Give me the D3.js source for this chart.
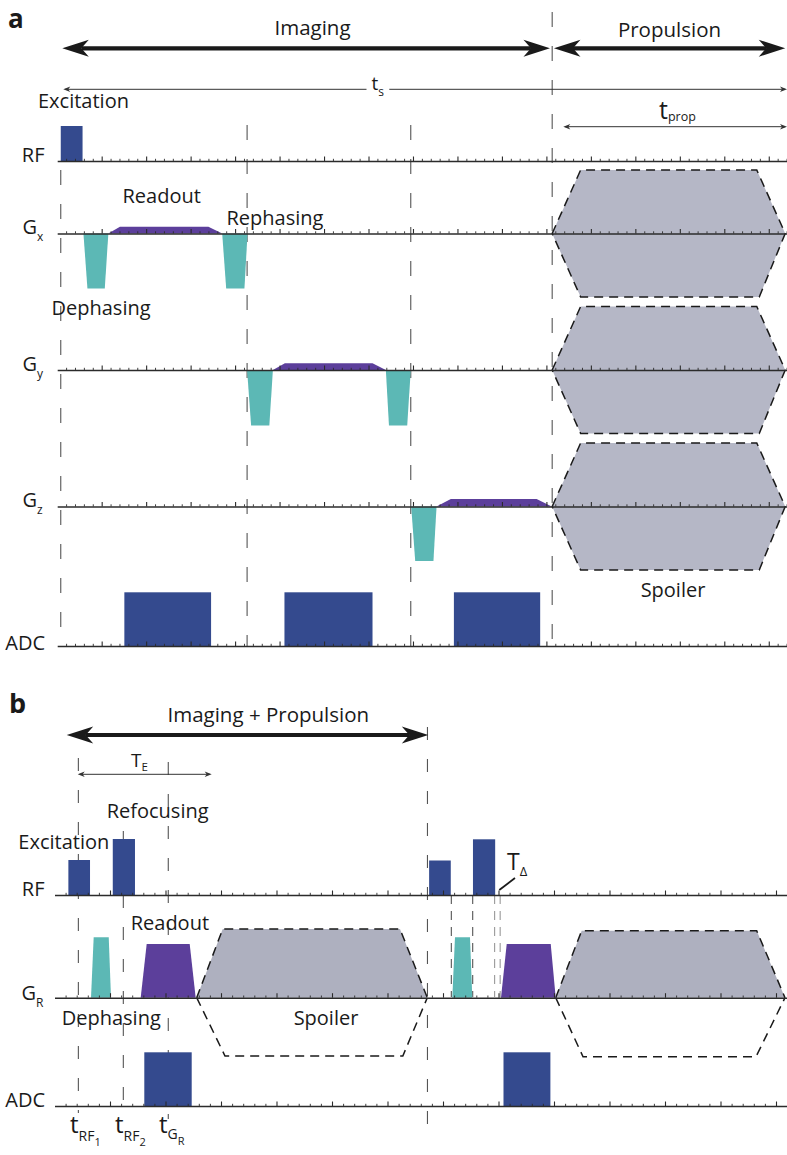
<!DOCTYPE html>
<html><head><meta charset="utf-8">
<script src="https://cdn.jsdelivr.net/npm/d3@7"></script>
<style>
body{margin:0;background:#fff}
svg{display:block}
text,tspan{font-family:"Open Sans",sans-serif;fill:#1a1a1a}
</style>
</head><body>
<svg id="c" width="787" height="1155"></svg>
<script>
// ---------------- DATA (time in arbitrary units: 1 unit = one major tick) ----------------
// Panel a
const aTimeMax = 16.41;
const aRF = [{t0: 0.08, t1: 0.57, amp: 3.5}];
const aGx = [
  {t: [0.59, 0.68, 1.07, 1.15], amp: -5.5, kind: "phase"},
  {t: [1.15, 1.41, 3.40, 3.71], amp: 0.67, kind: "readout"},
  {t: [3.71, 3.80, 4.21, 4.28], amp: -5.5, kind: "phase"}
];
const aGy = [
  {t: [4.27, 4.36, 4.77, 4.85], amp: -5.55, kind: "phase"},
  {t: [4.85, 5.12, 7.09, 7.39], amp: 0.67, kind: "readout"},
  {t: [7.39, 7.46, 7.87, 7.95], amp: -5.55, kind: "phase"}
];
const aGz = [
  {t: [7.96, 8.05, 8.46, 8.53], amp: -5.45, kind: "phase"},
  {t: [8.53, 8.85, 10.78, 11.12], amp: 0.74, kind: "readout"}
];
const aSpoiler = {t: [11.13, 11.77, 15.73, 16.37], amp: 6.35};
const aADC = [[1.51, 3.46], [5.11, 7.09], [8.92, 10.86]];
const aADCamp = 5.37;
const aMarkers = [0.08, 4.27, 7.95, 11.13];
const aPhases = [{name: "Imaging", t0: 0.115, t1: 11.08}, {name: "Propulsion", t0: 11.17, t1: 16.37}];
const aTs = [0.137, 16.41];
const aTprop = [11.38, 16.41];

// Panel b
const bTimeMax = 13.2;
const bRF = [
  {t0: 0.25, t1: 0.64, amp: 3.5},
  {t0: 1.05, t1: 1.45, amp: 5.6},
  {t0: 6.75, t1: 7.14, amp: 3.45},
  {t0: 7.54, t1: 7.94, amp: 5.57}
];
const bGR = [
  {t: [0.658, 0.706, 0.977, 1.018], amp: 6.04, kind: "phase"},
  {t: [1.553, 1.661, 2.436, 2.544], amp: 5.37, kind: "readout"},
  {t: [7.168, 7.216, 7.486, 7.528], amp: 6.04, kind: "phase"},
  {t: [8.045, 8.148, 8.941, 9.031], amp: 5.37, kind: "readout"}
];
const bSpoilers = [
  {top: [2.562, 3.031, 6.225, 6.717], ampTop: 6.87, bottom: [2.562, 3.072, 6.276, 6.717], ampBottom: -5.83},
  {top: [9.031, 9.499, 12.652, 13.162], ampTop: 6.7, bottom: [9.031, 9.523, 12.64, 13.162], ampBottom: -5.9}
];
const bADC = [[1.618, 2.472], [8.09, 8.935]];
const bADCamp = 5.37;
const bMarkers = [0.43, 1.24, 2.05, 6.72, 7.15, 7.535, 7.93, 8.03];
const bPhase = {name: "Imaging + Propulsion", t0: 0.22, t1: 6.735};
const bTE = [0.418, 2.832];
const bTDelta = [8.014, 8.297];

// ---------------- STYLE ----------------
const NAVY = "#344a8e", TEAL = "#5cb8b5", PURPLE = "#5c3f9b", GREY_A = "#b5b7c6", GREY_B = "#aeb0bf";
const INK = "#1a1a1a";
const svg = d3.select("#c");

const xa = d3.scaleLinear().domain([0, aTimeMax]).range([57.2, 787]);
const xb = d3.scaleLinear().domain([0, bTimeMax]).range([54.5, 787.1]);
const amp = d3.scaleLinear().domain([0, 1]).range([0, -10]);

const rowA = {RF: 161, Gx: 233.5, Gy: 370, Gz: 506.5, ADC: 646};
const rowB = {RF: 895, GR: 997.7, ADC: 1106};

const line = d3.line();

function txt(g, x, y, parts, anchor = "start", weight = "normal") {
  const t = g.append("text").attr("x", x).attr("y", y).attr("text-anchor", anchor)
    .attr("font-weight", weight).attr("fill", INK);
  parts.forEach(([s, size, dy]) => {
    t.append("tspan").attr("font-size", size).attr("dy", dy || 0).attr("fill", INK).text(s);
  });
  return t;
}

function thickArrow(g, x1, x2, y) {
  const L = 26.5, W = 8.5, N = 19;
  g.append("line").attr("x1", x1 + N).attr("x2", x2 - N).attr("y1", y).attr("y2", y)
    .attr("stroke", INK).attr("stroke-width", 4.2);
  g.append("path").attr("d", `M${x1},${y}L${x1 + L},${y - W}L${x1 + N},${y}L${x1 + L},${y + W}Z`).attr("fill", INK);
  g.append("path").attr("d", `M${x2},${y}L${x2 - L},${y - W}L${x2 - N},${y}L${x2 - L},${y + W}Z`).attr("fill", INK);
}
function thinArrow(g, x1, x2, y) {
  const L = 7, W = 2.8, N = 5;
  g.append("line").attr("x1", x1 + 2).attr("x2", x2 - 2).attr("y1", y).attr("y2", y)
    .attr("stroke", "#333").attr("stroke-width", 1);
  g.append("path").attr("d", `M${x1},${y}L${x1 + L},${y - W}L${x1 + N},${y}L${x1 + L},${y + W}Z`).attr("fill", "#333");
  g.append("path").attr("d", `M${x2},${y}L${x2 - L},${y - W}L${x2 - N},${y}L${x2 - L},${y + W}Z`).attr("fill", "#333");
}

function drawAxis(g, x, y, tMax) {
  const majors = d3.range(1, Math.floor(tMax) + 1);
  const minors = d3.range(1, Math.floor(tMax * 5) + 1).map(d => d / 5).filter(d => Math.abs(d - Math.round(d)) > 1e-6);
  const gg = g.append("g").attr("transform", `translate(0,${y})`).attr("color", "#2b2b2b");
  const mi = gg.append("g").call(d3.axisTop(x).tickValues(minors).tickSize(2.2).tickSizeOuter(0).tickFormat(""));
  mi.select(".domain").remove();
  mi.selectAll("line").attr("stroke-width", 0.9);
  const ma = gg.append("g").call(d3.axisTop(x).tickValues(majors).tickSize(4.5).tickSizeOuter(0).tickFormat(""));
  ma.select(".domain").attr("stroke-width", 1.6);
  ma.selectAll("line").attr("stroke-width", 1.1);
}

function trap(g, x, y, p) {
  const pts = [[x(p.t[0]), y], [x(p.t[1]), y + amp(p.amp)], [x(p.t[2]), y + amp(p.amp)], [x(p.t[3]), y]];
  g.append("path").attr("d", line(pts) + "Z").attr("fill", p.kind === "phase" ? TEAL : PURPLE);
}

function vdash(g, x, y1, y2, color = "#555", dash = "15,19") {
  g.append("line").attr("x1", x).attr("x2", x).attr("y1", y1).attr("y2", y2)
    .attr("stroke", color).attr("stroke-width", 1.1).attr("stroke-dasharray", dash);
}

// ================= PANEL A =================
const A = svg.append("g");
const aMarkerExt = [[170, 646], [125, 646], [125, 646], [12, 646]];
aMarkers.forEach((t, i) => vdash(A, xa(t), aMarkerExt[i][0], aMarkerExt[i][1]));

["Gx", "Gy", "Gz"].forEach(r => {
  const y = rowA[r], s = aSpoiler;
  const pts = [[xa(s.t[0]), y], [xa(s.t[1]), y + amp(s.amp)], [xa(s.t[2]), y + amp(s.amp)], [xa(s.t[3]), y],
               [xa(s.t[2]) + 2.5, y - amp(s.amp)], [xa(s.t[1]), y - amp(s.amp)]];
  A.append("path").attr("d", line(pts) + "Z").attr("fill", GREY_A)
    .attr("stroke", INK).attr("stroke-width", 1.5).attr("stroke-dasharray", "9,6");
});
aRF.forEach(p => A.append("rect").attr("x", xa(p.t0)).attr("width", xa(p.t1) - xa(p.t0))
  .attr("y", rowA.RF + amp(p.amp)).attr("height", -amp(p.amp)).attr("fill", NAVY));
aGx.forEach(p => trap(A, xa, rowA.Gx, p));
aGy.forEach(p => trap(A, xa, rowA.Gy, p));
aGz.forEach(p => trap(A, xa, rowA.Gz, p));
aADC.forEach(([t0, t1]) => A.append("rect").attr("x", xa(t0)).attr("width", xa(t1) - xa(t0))
  .attr("y", rowA.ADC + amp(aADCamp)).attr("height", -amp(aADCamp)).attr("fill", NAVY));
Object.values(rowA).forEach(y => drawAxis(A, xa, y, aTimeMax));

txt(A, 8, 28, [["a", 26]], "start", "bold");
aPhases.forEach(p => thickArrow(A, xa(p.t0), xa(p.t1), 48.3));
txt(A, 312.5, 35, [[aPhases[0].name, 20.5]], "middle");
txt(A, 669.5, 36.5, [[aPhases[1].name, 20.5]], "middle");
thinArrow(A, xa(aTs[0]), xa(aTs[1]), 89.3);
const ts = txt(A, 371.5, 90, [["t", 19], ["s", 12, 6]]);
const bb = ts.node().getBBox();
A.insert("rect", () => ts.node()).attr("x", bb.x - 5).attr("y", bb.y).attr("width", bb.width + 10).attr("height", bb.height).attr("fill", "#fff");
thinArrow(A, xa(aTprop[0]), xa(aTprop[1]), 126.7);
txt(A, 659, 119, [["t", 25], ["prop", 12.5, 2]]);

txt(A, 38, 108.3, [["Excitation", 20]]);
txt(A, 44.5, 161.5, [["RF", 20]], "end");
txt(A, 22.5, 234, [["G", 20], ["x", 12, 7]]);
txt(A, 22.5, 370.5, [["G", 20], ["y", 12, 7]]);
txt(A, 22.5, 507, [["G", 20], ["z", 12, 7]]);
txt(A, 45, 650, [["ADC", 20]], "end");
txt(A, 161.7, 203, [["Readout", 20]], "middle");
txt(A, 226.5, 225, [["Rephasing", 20]]);
txt(A, 51.5, 315, [["Dephasing", 20]]);
txt(A, 673, 597, [["Spoiler", 20]], "middle");

// ================= PANEL B =================
const B = svg.append("g");
const bMarkerExt = [[758, 1113], [831, 1113], [762, 1119], [727, 1133], [895, 997], [895, 997], [895, 997], [895, 997]];
const bMarkerCol = ["#555", "#555", "#555", "#555", "#555", "#555", "#9a9a9a", "#9a9a9a"];
bMarkers.forEach((t, i) => vdash(B, xb(t), bMarkerExt[i][0], bMarkerExt[i][1], bMarkerCol[i], i >= 4 ? "9,7" : "13,19"));

bSpoilers.forEach(s => {
  const y = rowB.GR;
  const top = [[xb(s.top[0]), y], [xb(s.top[1]), y + amp(s.ampTop)], [xb(s.top[2]), y + amp(s.ampTop)], [xb(s.top[3]), y]];
  const bot = [[xb(s.bottom[0]), y], [xb(s.bottom[1]), y + amp(s.ampBottom)], [xb(s.bottom[2]), y + amp(s.ampBottom)], [xb(s.bottom[3]), y]];
  B.append("path").attr("d", line(top) + "Z").attr("fill", GREY_B);
  B.append("path").attr("d", line(top)).attr("fill", "none").attr("stroke", INK).attr("stroke-width", 1.5).attr("stroke-dasharray", "9,6");
  B.append("path").attr("d", line(bot)).attr("fill", "none").attr("stroke", INK).attr("stroke-width", 1.5).attr("stroke-dasharray", "9,6");
});
bRF.forEach(p => B.append("rect").attr("x", xb(p.t0)).attr("width", xb(p.t1) - xb(p.t0))
  .attr("y", rowB.RF + amp(p.amp)).attr("height", -amp(p.amp)).attr("fill", NAVY));
bGR.forEach(p => trap(B, xb, rowB.GR, p));
bADC.forEach(([t0, t1]) => B.append("rect").attr("x", xb(t0)).attr("width", xb(t1) - xb(t0))
  .attr("y", rowB.ADC + amp(bADCamp)).attr("height", -amp(bADCamp)).attr("fill", NAVY));
Object.values(rowB).forEach(y => drawAxis(B, xb, y, bTimeMax));

txt(B, 9, 713, [["b", 27]], "start", "bold");
thickArrow(B, xb(bPhase.t0), xb(bPhase.t1), 735);
txt(B, 268.3, 721.7, [[bPhase.name, 20.5]], "middle");
thinArrow(B, xb(bTE[0]), xb(bTE[1]), 774.3);
txt(B, 131, 767, [["T", 19], ["E", 11.5, 4]]);
txt(B, 106.7, 818.3, [["Refocusing", 20]]);
txt(B, 18.3, 849.3, [["Excitation", 20]]);
txt(B, 44.5, 896, [["RF", 20]], "end");
txt(B, 130.7, 930, [["Readout", 20]]);
txt(B, 21.5, 1000, [["G", 20], ["R", 12, 7]]);
txt(B, 61.7, 1025, [["Dephasing", 20]]);
txt(B, 326, 1025, [["Spoiler", 20]], "middle");
txt(B, 45, 1107, [["ADC", 20]], "end");
txt(B, 70, 1133, [["t", 24], ["RF", 14, 8], ["1", 11, 5]]);
txt(B, 115, 1133, [["t", 24], ["RF", 14, 8], ["2", 11, 5]]);
txt(B, 159, 1133, [["t", 24], ["G", 14, 6], ["R", 11, 6]]);
B.append("line").attr("x1", xb(bTDelta[0])).attr("y1", 890).attr("x2", xb(bTDelta[1])).attr("y2", 878)
  .attr("stroke", INK).attr("stroke-width", 1.8);
txt(B, 507, 870, [["T", 23], ["Δ", 13, 6]]);
</script>
</body></html>
